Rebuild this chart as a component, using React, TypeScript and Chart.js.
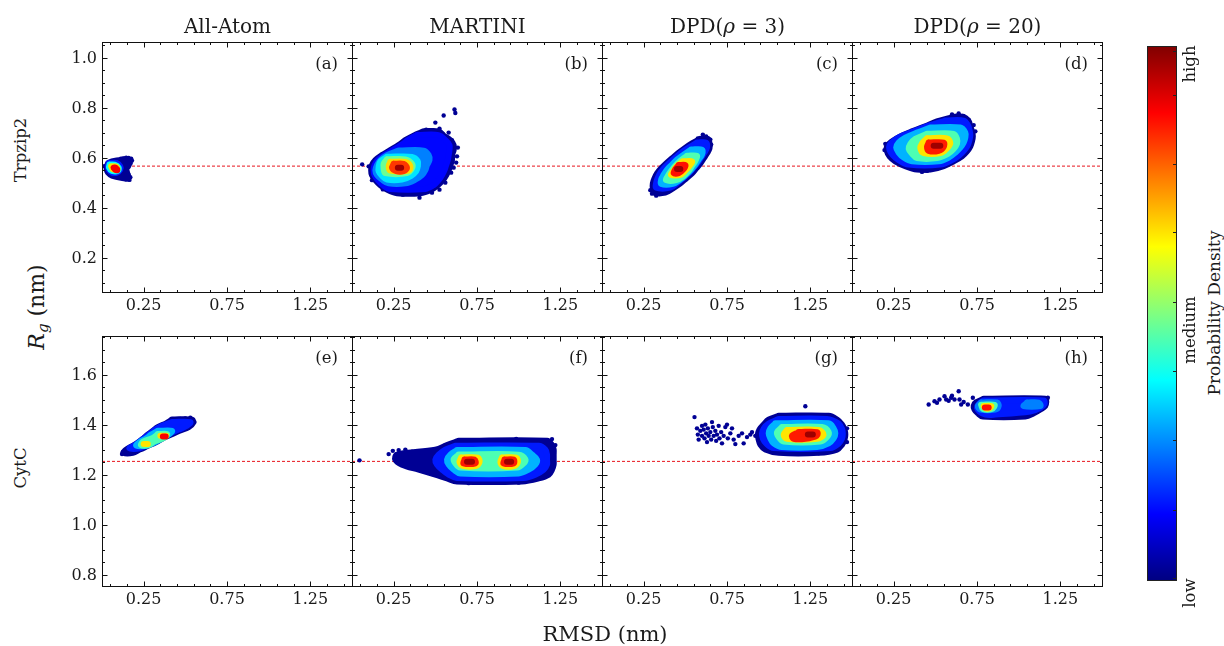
import React, { useEffect, useRef } from "react";
import { Chart, registerables } from "chart.js";
Chart.register(...registerables);

const FONT = "'DejaVu Serif', 'Liberation Serif', serif";

// ---------- labels ----------
const columnTitles = ["All-Atom", "MARTINI", "DPD(ρ = 3)", "DPD(ρ = 20)"];
const rowNames = ["Trpzip2", "CytC"];
const panelLetters = ["(a)", "(b)", "(c)", "(d)", "(e)", "(f)", "(g)", "(h)"];
const colorbarLabels = ["low", "medium", "high"];
const colorbarLabelValues = [-0.023, 0.469, 0.966];
const colorbarMinorTicks = [0.005, 0.132, 0.263, 0.392, 0.522, 0.652, 0.78, 0.908, 0.991];

// ---------- axes ----------
const xRange = [0, 1.5];
const xMajorTicks = [0.25, 0.75, 1.25];
const xMinorTicks = [0.05, 0.15, 0.25, 0.35, 0.45, 0.55, 0.65, 0.75, 0.85, 0.95, 1.05, 1.15, 1.25, 1.35, 1.45];
const yRangeTop = [0.063, 1.062];
const yMajorTop = [0.2, 0.4, 0.6, 0.8, 1.0];
const yMinorTop = [0.1, 0.15, 0.2, 0.25, 0.3, 0.35, 0.4, 0.45, 0.5, 0.55, 0.6, 0.65, 0.7, 0.75, 0.8, 0.85, 0.9, 0.95, 1.0, 1.05];
const yRangeBottom = [0.755, 1.754];
const yMajorBottom = [0.8, 1.0, 1.2, 1.4, 1.6];
const yMinorBottom = [0.8, 0.85, 0.9, 0.95, 1.0, 1.05, 1.1, 1.15, 1.2, 1.25, 1.3, 1.35, 1.4, 1.45, 1.5, 1.55, 1.6, 1.65, 1.7, 1.75];
const referenceRg = [0.566, 1.253];

// ---------- density bands: [density level, Rg, RMSD from, RMSD to] ----------
const bandsA = [
  [0.02, 0.592, 0.115, 0.16], [0.02, 0.58, 0.04, 0.165], [0.02, 0.567, 0.03, 0.158], [0.02, 0.554, 0.028, 0.145],
  [0.02, 0.541, 0.035, 0.15], [0.02, 0.528, 0.06, 0.155], [0.02, 0.516, 0.14, 0.155],
  [0.15, 0.578, 0.04, 0.09], [0.15, 0.565, 0.035, 0.11], [0.15, 0.552, 0.04, 0.11], [0.15, 0.54, 0.06, 0.09],
  [0.38, 0.572, 0.045, 0.075], [0.38, 0.56, 0.042, 0.1], [0.38, 0.547, 0.06, 0.095],
  [0.65, 0.565, 0.055, 0.085], [0.65, 0.553, 0.065, 0.092],
  [0.88, 0.56, 0.07, 0.082], [0.88, 0.55, 0.082, 0.092],
];
const bandsB = [
  [0.02, 0.705, 0.43, 0.52], [0.02, 0.688, 0.37, 0.55], [0.02, 0.67, 0.32, 0.59], [0.02, 0.65, 0.28, 0.61],
  [0.02, 0.63, 0.23, 0.61], [0.02, 0.61, 0.18, 0.6], [0.02, 0.59, 0.14, 0.6], [0.02, 0.57, 0.12, 0.59],
  [0.02, 0.55, 0.115, 0.58], [0.02, 0.53, 0.12, 0.565], [0.02, 0.51, 0.14, 0.545], [0.02, 0.49, 0.17, 0.515],
  [0.02, 0.472, 0.21, 0.475], [0.02, 0.458, 0.27, 0.41],
  [0.13, 0.69, 0.39, 0.52], [0.13, 0.67, 0.335, 0.56], [0.13, 0.65, 0.295, 0.585], [0.13, 0.63, 0.245, 0.585],
  [0.13, 0.61, 0.195, 0.58], [0.13, 0.59, 0.155, 0.575], [0.13, 0.57, 0.135, 0.565], [0.13, 0.55, 0.13, 0.555],
  [0.13, 0.53, 0.135, 0.54], [0.13, 0.51, 0.155, 0.52], [0.13, 0.49, 0.185, 0.49], [0.13, 0.475, 0.23, 0.44],
  [0.25, 0.628, 0.28, 0.43], [0.25, 0.61, 0.21, 0.46], [0.25, 0.59, 0.17, 0.465], [0.25, 0.57, 0.15, 0.45],
  [0.25, 0.55, 0.14, 0.44], [0.25, 0.53, 0.15, 0.42], [0.25, 0.512, 0.18, 0.38], [0.25, 0.497, 0.22, 0.32],
  [0.35, 0.603, 0.21, 0.36], [0.35, 0.585, 0.17, 0.395], [0.35, 0.565, 0.16, 0.395], [0.35, 0.545, 0.16, 0.385],
  [0.35, 0.527, 0.18, 0.355], [0.35, 0.512, 0.21, 0.3],
  [0.48, 0.593, 0.21, 0.32], [0.48, 0.575, 0.19, 0.36], [0.48, 0.557, 0.19, 0.36], [0.48, 0.538, 0.2, 0.33],
  [0.66, 0.583, 0.23, 0.32], [0.66, 0.566, 0.22, 0.35], [0.66, 0.548, 0.23, 0.34],
  [0.82, 0.575, 0.25, 0.31], [0.82, 0.559, 0.24, 0.33], [0.82, 0.546, 0.265, 0.31],
  [0.97, 0.56, 0.275, 0.295],
];
const bandsC = [
  [0.02, 0.675, 0.59, 0.635], [0.02, 0.657, 0.54, 0.645], [0.02, 0.637, 0.495, 0.645], [0.02, 0.617, 0.455, 0.63],
  [0.02, 0.597, 0.42, 0.61], [0.02, 0.577, 0.385, 0.59], [0.02, 0.557, 0.355, 0.565], [0.02, 0.537, 0.33, 0.54],
  [0.02, 0.517, 0.315, 0.505], [0.02, 0.497, 0.305, 0.47], [0.02, 0.477, 0.305, 0.425], [0.02, 0.46, 0.315, 0.38],
  [0.15, 0.66, 0.57, 0.625], [0.15, 0.64, 0.52, 0.63], [0.15, 0.62, 0.475, 0.615], [0.15, 0.6, 0.44, 0.595],
  [0.15, 0.58, 0.405, 0.575], [0.15, 0.56, 0.375, 0.55], [0.15, 0.54, 0.35, 0.525], [0.15, 0.52, 0.335, 0.49],
  [0.15, 0.5, 0.325, 0.455], [0.15, 0.48, 0.325, 0.41],
  [0.3, 0.632, 0.535, 0.6], [0.3, 0.612, 0.49, 0.6], [0.3, 0.592, 0.45, 0.58], [0.3, 0.572, 0.42, 0.56],
  [0.3, 0.552, 0.39, 0.535], [0.3, 0.532, 0.37, 0.505], [0.3, 0.512, 0.355, 0.47], [0.3, 0.495, 0.355, 0.425],
  [0.45, 0.607, 0.51, 0.57], [0.45, 0.587, 0.47, 0.56], [0.45, 0.567, 0.44, 0.54], [0.45, 0.547, 0.415, 0.52],
  [0.45, 0.527, 0.395, 0.49], [0.45, 0.51, 0.385, 0.445],
  [0.65, 0.585, 0.485, 0.54], [0.65, 0.567, 0.45, 0.525], [0.65, 0.548, 0.43, 0.5], [0.65, 0.531, 0.415, 0.47],
  [0.86, 0.57, 0.46, 0.5], [0.86, 0.554, 0.44, 0.49], [0.86, 0.538, 0.43, 0.46],
  [0.97, 0.555, 0.45, 0.47],
];
const bandsD = [
  [0.02, 0.763, 0.61, 0.67], [0.02, 0.745, 0.51, 0.7], [0.02, 0.725, 0.44, 0.71], [0.02, 0.705, 0.36, 0.72],
  [0.02, 0.685, 0.29, 0.725], [0.02, 0.665, 0.24, 0.72], [0.02, 0.645, 0.21, 0.71], [0.02, 0.625, 0.21, 0.69],
  [0.02, 0.605, 0.225, 0.66], [0.02, 0.585, 0.26, 0.61], [0.02, 0.566, 0.32, 0.55], [0.02, 0.552, 0.39, 0.47],
  [0.15, 0.748, 0.56, 0.67], [0.15, 0.73, 0.47, 0.695], [0.15, 0.71, 0.39, 0.705], [0.15, 0.69, 0.31, 0.71],
  [0.15, 0.67, 0.255, 0.705], [0.15, 0.65, 0.225, 0.695], [0.15, 0.63, 0.225, 0.675], [0.15, 0.61, 0.245, 0.645],
  [0.15, 0.59, 0.28, 0.6], [0.15, 0.572, 0.34, 0.53],
  [0.3, 0.72, 0.47, 0.65], [0.3, 0.7, 0.39, 0.68], [0.3, 0.68, 0.32, 0.68], [0.3, 0.66, 0.28, 0.67],
  [0.3, 0.64, 0.265, 0.65], [0.3, 0.62, 0.28, 0.62], [0.3, 0.6, 0.31, 0.58], [0.3, 0.585, 0.36, 0.52],
  [0.45, 0.695, 0.45, 0.61], [0.45, 0.675, 0.38, 0.63], [0.45, 0.655, 0.35, 0.63], [0.45, 0.635, 0.34, 0.61],
  [0.45, 0.615, 0.36, 0.575], [0.45, 0.598, 0.39, 0.51],
  [0.65, 0.677, 0.45, 0.57], [0.65, 0.657, 0.42, 0.59], [0.65, 0.637, 0.41, 0.57], [0.65, 0.618, 0.43, 0.53],
  [0.85, 0.66, 0.46, 0.55], [0.85, 0.643, 0.45, 0.55], [0.85, 0.627, 0.46, 0.52],
  [0.97, 0.647, 0.49, 0.53],
];
const bandsE = [
  [0.02, 1.42, 0.42, 0.54], [0.02, 1.405, 0.385, 0.545], [0.02, 1.39, 0.335, 0.52], [0.02, 1.375, 0.305, 0.465],
  [0.02, 1.36, 0.275, 0.415], [0.02, 1.345, 0.25, 0.365], [0.02, 1.33, 0.22, 0.325], [0.02, 1.315, 0.185, 0.275],
  [0.02, 1.3, 0.145, 0.225], [0.02, 1.287, 0.13, 0.185],
  [0.15, 1.41, 0.42, 0.53], [0.15, 1.395, 0.36, 0.51], [0.15, 1.38, 0.32, 0.46], [0.15, 1.365, 0.29, 0.41],
  [0.15, 1.35, 0.26, 0.365], [0.15, 1.335, 0.23, 0.32], [0.15, 1.32, 0.2, 0.275], [0.15, 1.305, 0.165, 0.225],
  [0.3, 1.375, 0.335, 0.42], [0.3, 1.36, 0.295, 0.4], [0.3, 1.345, 0.265, 0.36], [0.3, 1.33, 0.225, 0.32],
  [0.3, 1.316, 0.205, 0.27],
  [0.45, 1.362, 0.335, 0.39], [0.45, 1.347, 0.305, 0.37], [0.45, 1.331, 0.245, 0.31], [0.45, 1.318, 0.235, 0.28],
  [0.65, 1.355, 0.35, 0.385], [0.65, 1.322, 0.25, 0.275],
  [0.88, 1.352, 0.365, 0.382],
];
const bandsF = [
  [0.02, 1.335, 0.64, 0.7], [0.02, 1.335, 0.9, 1.17], [0.02, 1.318, 0.57, 0.8], [0.02, 1.318, 0.86, 1.2],
  [0.02, 1.3, 0.5, 1.21], [0.02, 1.28, 0.27, 1.21], [0.02, 1.26, 0.26, 1.21], [0.02, 1.24, 0.3, 1.21],
  [0.02, 1.22, 0.4, 1.2], [0.02, 1.2, 0.5, 1.18], [0.02, 1.185, 0.57, 0.79], [0.02, 1.185, 0.86, 1.12],
  [0.02, 1.173, 0.63, 0.74], [0.02, 1.173, 0.9, 1.02],
  [0.15, 1.315, 0.62, 0.76], [0.15, 1.315, 0.9, 1.12], [0.15, 1.3, 0.56, 1.16], [0.15, 1.28, 0.52, 1.17],
  [0.15, 1.26, 0.5, 1.17], [0.15, 1.24, 0.51, 1.17], [0.15, 1.22, 0.54, 1.15], [0.15, 1.2, 0.58, 1.1],
  [0.15, 1.187, 0.63, 0.77], [0.15, 1.187, 0.9, 1.03],
  [0.3, 1.298, 0.63, 0.79], [0.3, 1.298, 0.88, 1.04], [0.3, 1.28, 0.59, 1.08], [0.3, 1.26, 0.57, 1.11],
  [0.3, 1.24, 0.58, 1.1], [0.3, 1.22, 0.61, 1.06], [0.3, 1.205, 0.65, 0.76], [0.3, 1.205, 0.9, 1.0],
  [0.45, 1.28, 0.64, 0.77], [0.45, 1.28, 0.89, 1.0], [0.45, 1.262, 0.61, 1.04], [0.45, 1.245, 0.62, 1.03],
  [0.45, 1.228, 0.65, 0.77], [0.45, 1.228, 0.89, 0.99],
  [0.65, 1.268, 0.655, 0.755], [0.65, 1.268, 0.9, 0.985], [0.65, 1.25, 0.645, 0.765], [0.65, 1.25, 0.89, 0.995],
  [0.65, 1.234, 0.67, 0.74], [0.65, 1.234, 0.91, 0.97],
  [0.85, 1.26, 0.675, 0.735], [0.85, 1.26, 0.915, 0.97], [0.85, 1.245, 0.67, 0.74], [0.85, 1.245, 0.91, 0.97],
  [0.97, 1.252, 0.69, 0.72], [0.97, 1.252, 0.93, 0.955],
];
const bandsG = [
  [0.02, 1.435, 1.06, 1.19], [0.02, 1.435, 1.3, 1.36], [0.02, 1.42, 1.0, 1.41], [0.02, 1.4, 0.97, 1.44],
  [0.02, 1.38, 0.945, 1.455], [0.02, 1.36, 0.935, 1.46], [0.02, 1.34, 0.94, 1.455], [0.02, 1.32, 0.95, 1.44],
  [0.02, 1.3, 0.98, 1.41], [0.02, 1.287, 1.06, 1.3],
  [0.15, 1.422, 1.06, 1.35], [0.15, 1.404, 1.0, 1.42], [0.15, 1.384, 0.97, 1.44], [0.15, 1.364, 0.96, 1.445],
  [0.15, 1.344, 0.965, 1.44], [0.15, 1.324, 0.985, 1.42], [0.15, 1.306, 1.03, 1.37],
  [0.3, 1.405, 1.04, 1.36], [0.3, 1.385, 1.01, 1.39], [0.3, 1.365, 1.0, 1.4], [0.3, 1.345, 1.01, 1.39],
  [0.3, 1.325, 1.03, 1.36], [0.3, 1.31, 1.08, 1.29],
  [0.45, 1.39, 1.08, 1.32], [0.45, 1.37, 1.05, 1.36], [0.45, 1.35, 1.06, 1.35], [0.45, 1.332, 1.09, 1.31],
  [0.65, 1.378, 1.11, 1.3], [0.65, 1.36, 1.09, 1.33], [0.65, 1.343, 1.11, 1.29],
  [0.85, 1.37, 1.18, 1.29], [0.85, 1.356, 1.14, 1.29], [0.85, 1.343, 1.15, 1.22],
  [0.97, 1.36, 1.235, 1.265],
];
const bandsH = [
  [0.02, 1.503, 0.79, 1.16], [0.02, 1.489, 0.745, 1.165], [0.02, 1.475, 0.73, 1.16], [0.02, 1.46, 0.735, 1.13],
  [0.02, 1.445, 0.755, 1.09], [0.02, 1.432, 0.785, 0.875], [0.02, 1.432, 0.955, 1.04],
  [0.15, 1.496, 0.79, 1.15], [0.15, 1.482, 0.76, 1.155], [0.15, 1.467, 0.75, 1.13], [0.15, 1.452, 0.765, 1.07],
  [0.15, 1.44, 0.8, 0.86],
  [0.25, 1.488, 0.775, 0.87], [0.25, 1.488, 1.05, 1.12], [0.25, 1.474, 0.755, 0.88], [0.25, 1.474, 1.03, 1.13],
  [0.25, 1.46, 0.77, 0.86],
  [0.45, 1.479, 0.775, 0.855], [0.45, 1.463, 0.785, 0.84],
  [0.65, 1.474, 0.79, 0.835], [0.65, 1.465, 0.8, 0.825],
  [0.86, 1.468, 0.797, 0.82],
];

// ---------- sparse outlying frames: [RMSD, Rg] ----------
const dotsA = [[0.13, 0.597], [0.145, 0.6], [0.16, 0.599], [0.175, 0.596], [0.18, 0.588], [0.172, 0.578], [0.16, 0.532], [0.17, 0.522], [0.165, 0.511], [0.152, 0.518], [0.013, 0.566]];
const dotsB = [[0.061, 0.573], [0.55, 0.768], [0.615, 0.792], [0.62, 0.778], [0.5, 0.74], [0.445, 0.712], [0.525, 0.716], [0.545, 0.695], [0.58, 0.7], [0.635, 0.64], [0.63, 0.605], [0.625, 0.58], [0.595, 0.54], [0.61, 0.56], [0.56, 0.5], [0.525, 0.472], [0.48, 0.46], [0.405, 0.44], [0.305, 0.452], [0.185, 0.473], [0.12, 0.51], [0.1, 0.565], [0.58, 0.64], [0.6, 0.67]];
const dotsC = [[0.3, 0.456], [0.325, 0.448], [0.625, 0.685], [0.65, 0.672], [0.605, 0.692], [0.29, 0.47], [0.575, 0.677], [0.655, 0.652]];
const dotsD = [[0.6, 0.772], [0.64, 0.776], [0.665, 0.766], [0.7, 0.752], [0.73, 0.73], [0.195, 0.63], [0.2, 0.655], [0.42, 0.543], [0.45, 0.547], [0.74, 0.705]];
const dotsE = [[0.12, 1.282], [0.125, 1.29], [0.5, 1.425], [0.53, 1.428], [0.555, 1.41], [0.47, 1.423]];
const dotsF = [[0.045, 1.257], [0.22, 1.282], [0.245, 1.295], [0.28, 1.298], [0.32, 1.3], [0.36, 1.292], [0.985, 1.343], [1.2, 1.342], [1.22, 1.318], [1.0, 1.168], [0.7, 1.166], [0.8, 1.33], [1.1, 1.338], [0.55, 1.315], [0.75, 1.338], [1.15, 1.19], [0.55, 1.19]];
const dotsG = [[0.555, 1.43], [0.57, 1.385], [0.575, 1.36], [0.58, 1.34], [0.59, 1.375], [0.6, 1.395], [0.6, 1.355], [0.61, 1.38], [0.615, 1.345], [0.62, 1.4], [0.625, 1.365], [0.63, 1.33], [0.635, 1.385], [0.64, 1.355], [0.65, 1.37], [0.655, 1.34], [0.66, 1.41], [0.665, 1.39], [0.67, 1.355], [0.68, 1.375], [0.685, 1.335], [0.69, 1.36], [0.7, 1.395], [0.705, 1.345], [0.715, 1.37], [0.72, 1.325], [0.73, 1.355], [0.74, 1.39], [0.75, 1.4], [0.755, 1.345], [0.77, 1.365], [0.78, 1.385], [0.79, 1.34], [0.8, 1.322], [0.82, 1.355], [0.84, 1.365], [0.85, 1.325], [0.87, 1.35], [0.89, 1.36], [0.9, 1.37], [0.92, 1.355], [0.935, 1.365], [1.22, 1.473], [1.47, 1.385], [1.47, 1.33], [1.12, 1.285], [1.3, 1.285]];
const dotsH = [[0.46, 1.48], [0.495, 1.493], [0.525, 1.5], [0.555, 1.513], [0.565, 1.5], [0.595, 1.507], [0.615, 1.5], [0.64, 1.533], [0.645, 1.5], [0.655, 1.48], [0.695, 1.48], [0.725, 1.507], [0.51, 1.487], [0.58, 1.495], [0.6, 1.515], [0.67, 1.49], [1.175, 1.507], [1.17, 1.49]];

const panelBands = [bandsA, bandsB, bandsC, bandsD, bandsE, bandsF, bandsG, bandsH];
const panelDots = [dotsA, dotsB, dotsC, dotsD, dotsE, dotsF, dotsG, dotsH];

// ---------- layout ----------
const COL_X = [102, 352, 602, 852];
const ROW_Y = [42, 336];
const PLOT = 250;
const LEFT = 50, TOP = 6, RIGHT = 6, BOTTOM = 30;

function jet(v: number) {
  const c = (t: number) => Math.max(0, Math.min(1, t));
  const r = c(1.5 - Math.abs(4 * v - 3));
  const g = c(1.5 - Math.abs(4 * v - 2));
  const b = c(1.5 - Math.abs(4 * v - 1));
  return `rgb(${Math.round(r * 255)},${Math.round(g * 255)},${Math.round(b * 255)})`;
}

// group the rows of one density level into connected regions, and trace each region's outline
function regionOutlines(rows: number[][]) {
  const parent = rows.map((_, i) => i);
  const find = (i: number): number => (parent[i] === i ? i : (parent[i] = find(parent[i])));
  for (let i = 0; i < rows.length; i++) {
    for (let j = i + 1; j < rows.length; j++) {
      const a = rows[i], b = rows[j];
      if (Math.abs(a[1] - b[1]) <= 0.026 && a[2] <= b[3] && b[2] <= a[3]) parent[find(i)] = find(j);
    }
  }
  const groups: Record<number, number[][]> = {};
  rows.forEach((r, i) => { (groups[find(i)] = groups[find(i)] || []).push(r); });
  return Object.values(groups).map((g) => {
    const ys = Array.from(new Set(g.map((r) => r[1]))).sort((p, q) => q - p);
    const left = ys.map((y) => ({ x: Math.min(...g.filter((r) => r[1] === y).map((r) => r[2])), y }));
    const right = ys.map((y) => ({ x: Math.max(...g.filter((r) => r[1] === y).map((r) => r[3])), y })).reverse();
    return [...left, ...right, left[0]];
  });
}

function makeFramePlugin(yMajor: number[], yMinor: number[], showYLabels: boolean) {
  return {
    id: "frameTicks",
    afterDatasetsDraw(chart: any) {
      const { ctx, chartArea: a, scales } = chart;
      const xs = scales.x, ys = scales.y;
      ctx.save();
      ctx.strokeStyle = "#111";
      ctx.lineWidth = 1;
      const L = a.left + 0.5, R = a.right + 0.5, T = a.top + 0.5, B = a.bottom + 0.5;
      ctx.strokeRect(L, T, R - L, B - T);
      ctx.beginPath();
      const xt = (v: number, len: number) => {
        const p = Math.round(xs.getPixelForValue(v)) + 0.5;
        ctx.moveTo(p, B); ctx.lineTo(p, B - len);
        ctx.moveTo(p, T); ctx.lineTo(p, T + len);
      };
      const yt = (v: number, len: number) => {
        const p = Math.round(ys.getPixelForValue(v)) + 0.5;
        ctx.moveTo(L, p); ctx.lineTo(L + len, p);
        ctx.moveTo(R, p); ctx.lineTo(R - len, p);
      };
      xMinorTicks.forEach((v) => xt(v, 2.5));
      xMajorTicks.forEach((v) => xt(v, 5));
      yMinor.forEach((v) => yt(v, 2.5));
      yMajor.forEach((v) => yt(v, 5));
      ctx.stroke();
      if (showYLabels) {
        ctx.fillStyle = "#1a1a1a";
        ctx.font = `16px ${FONT}`;
        ctx.textAlign = "right";
        ctx.textBaseline = "middle";
        yMajor.forEach((v) => ctx.fillText(v.toFixed(1), a.left - 5, ys.getPixelForValue(v) + 1));
      }
      ctx.restore();
    },
  };
}

function buildDatasets(bands: number[][], dots: number[][], ref: number) {
  const ds: any[] = [];
  ds.push({
    data: [{ x: xRange[0], y: ref }, { x: xRange[1], y: ref }],
    borderColor: "#e8141c", borderWidth: 1, borderDash: [3, 2], pointRadius: 0, order: 1000, fill: false,
  });
  ds.push({
    data: dots.map(([x, y]) => ({ x, y })), showLine: false, pointRadius: 2.2,
    pointBackgroundColor: jet(0.02), pointBorderWidth: 0, order: 900,
  });
  const levels = Array.from(new Set(bands.map((b) => b[0]))).sort((p, q) => p - q);
  levels.forEach((lv) => {
    const rows = bands.filter((b) => b[0] === lv);
    regionOutlines(rows).forEach((outline) => {
      ds.push({
        data: outline, borderColor: jet(lv), backgroundColor: jet(lv), borderWidth: 6,
        borderCapStyle: "round", borderJoinStyle: "round", pointRadius: 0,
        order: 500 - lv * 100, fill: "shape", tension: 0.35,
      });
    });
  });
  return ds;
}

function Panel({ index }: { index: number }) {
  const ref = useRef<HTMLCanvasElement>(null);
  const col = index % 4, row = Math.floor(index / 4);
  useEffect(() => {
    const yr = row === 0 ? yRangeTop : yRangeBottom;
    const yMajor = row === 0 ? yMajorTop : yMajorBottom;
    const yMinor = row === 0 ? yMinorTop : yMinorBottom;
    const chart = new Chart(ref.current as HTMLCanvasElement, {
      type: "line",
      data: { datasets: buildDatasets(panelBands[index], panelDots[index], referenceRg[row]) },
      options: {
        responsive: false, animation: false, events: [],
        layout: { padding: { top: TOP, right: RIGHT, left: 0, bottom: 0 } },
        plugins: { legend: { display: false }, tooltip: { enabled: false } },
        scales: {
          x: {
            type: "linear", min: xRange[0], max: xRange[1],
            grid: { display: false, drawTicks: false }, border: { display: false },
            afterBuildTicks: (s: any) => { s.ticks = xMajorTicks.map((v) => ({ value: v })); },
            afterFit: (s: any) => { s.height = BOTTOM; },
            ticks: { callback: (v: any) => Number(v).toFixed(2), font: { family: FONT, size: 16 }, color: "#1a1a1a", padding: 4, maxRotation: 0, autoSkip: false },
          },
          y: {
            type: "linear", min: yr[0], max: yr[1],
            grid: { display: false, drawTicks: false }, border: { display: false },
            afterFit: (s: any) => { s.width = LEFT; },
            ticks: { display: false },
          },
        },
      } as any,
      plugins: [makeFramePlugin(yMajor, yMinor, col === 0)],
    });
    return () => chart.destroy();
  }, []);
  const w = LEFT + PLOT + RIGHT, h = TOP + PLOT + BOTTOM;
  return (
    <canvas ref={ref} width={w} height={h}
      style={{ position: "absolute", left: COL_X[col] - LEFT, top: ROW_Y[row] - TOP, width: w, height: h }} />
  );
}

const CB = { left: 1147, top: 46, width: 30, height: 535 };

function ColorBar() {
  const ref = useRef<HTMLCanvasElement>(null);
  useEffect(() => {
    const chart = new Chart(ref.current as HTMLCanvasElement, {
      type: "bar",
      data: {
        labels: [""],
        datasets: [{
          data: [[0, 1]] as any,
          backgroundColor: (c: any) => {
            const { chart: ch } = c;
            const a = ch.chartArea;
            if (!a) return jet(0);
            const g = ch.ctx.createLinearGradient(0, a.bottom, 0, a.top);
            for (let i = 0; i <= 32; i++) g.addColorStop(i / 32, jet(i / 32));
            return g;
          },
          borderWidth: 0, categoryPercentage: 1, barPercentage: 1,
        }],
      },
      options: {
        responsive: false, animation: false, events: [],
        layout: { padding: { left: 5, right: 5, top: 5, bottom: 5 } },
        plugins: { legend: { display: false }, tooltip: { enabled: false } },
        scales: { x: { display: false }, y: { display: false, min: 0, max: 1 } },
      } as any,
      plugins: [{
        id: "cbFrame",
        afterDatasetsDraw(ch: any) {
          const { ctx, chartArea: a, scales } = ch;
          ctx.save();
          ctx.strokeStyle = "#222"; ctx.lineWidth = 1;
          ctx.strokeRect(a.left + 0.5, a.top + 0.5, a.right - a.left - 1, a.bottom - a.top - 1);
          ctx.beginPath();
          colorbarMinorTicks.forEach((v) => {
            const p = Math.round(scales.y.getPixelForValue(v)) + 0.5;
            ctx.moveTo(a.right - 0.5, p); ctx.lineTo(a.right - 4, p);
          });
          ctx.stroke();
          ctx.restore();
        },
      }],
    });
    return () => chart.destroy();
  }, []);
  return (
    <canvas ref={ref} width={CB.width + 10} height={CB.height + 10}
      style={{ position: "absolute", left: CB.left - 5, top: CB.top - 5, width: CB.width + 10, height: CB.height + 10 }} />
  );
}

function Rot({ cx, cy, size, children, style }: any) {
  return (
    <div style={{
      position: "absolute", left: cx, top: cy, transform: "translate(-50%,-50%) rotate(-90deg)",
      fontSize: size, lineHeight: 1, whiteSpace: "nowrap", ...style,
    }}>{children}</div>
  );
}

export default function App() {
  const cbY = (v: number) => CB.top + CB.height * (1 - v);
  return (
    <div style={{ position: "fixed", left: 0, top: 0, width: 1224, height: 646, background: "#fff", fontFamily: FONT, color: "#1a1a1a", overflow: "hidden" }}>
      {panelLetters.map((_, i) => <Panel key={i} index={i} />)}
      <ColorBar />
      {columnTitles.map((t, i) => (
        <div key={t} style={{ position: "absolute", left: COL_X[i] + 125.5, top: 16, transform: "translateX(-50%)", fontSize: 20, lineHeight: "20px", whiteSpace: "nowrap" }}>
          {t.includes("ρ") ? (<>{t.split("ρ")[0]}<i>ρ</i>{t.split("ρ")[1]}</>) : t}
        </div>
      ))}
      {panelLetters.map((t, i) => (
        <div key={t} style={{ position: "absolute", left: COL_X[i % 4] + 236, top: ROW_Y[Math.floor(i / 4)] + 22, transform: "translate(-100%,-50%)", fontSize: 16.5, lineHeight: 1, whiteSpace: "nowrap" }}>{t}</div>
      ))}
      <Rot cx={21} cy={150} size={16.5}>{rowNames[0]}</Rot>
      <Rot cx={21} cy={468} size={16.5}>{rowNames[1]}</Rot>
      <Rot cx={38} cy={307} size={22}><i>R</i><sub style={{ fontSize: 15, fontStyle: "italic", verticalAlign: "-4px" }}>g</sub> (nm)</Rot>
      <div style={{ position: "absolute", left: 605, top: 634, transform: "translate(-50%,-50%)", fontSize: 21, lineHeight: 1, whiteSpace: "nowrap" }}>RMSD (nm)</div>
      {colorbarLabels.map((t, i) => (
        <Rot key={t} cx={1190} cy={cbY(colorbarLabelValues[i])} size={16.5}>{t}</Rot>
      ))}
      <Rot cx={1214} cy={313} size={17}>Probability Density</Rot>
    </div>
  );
}
